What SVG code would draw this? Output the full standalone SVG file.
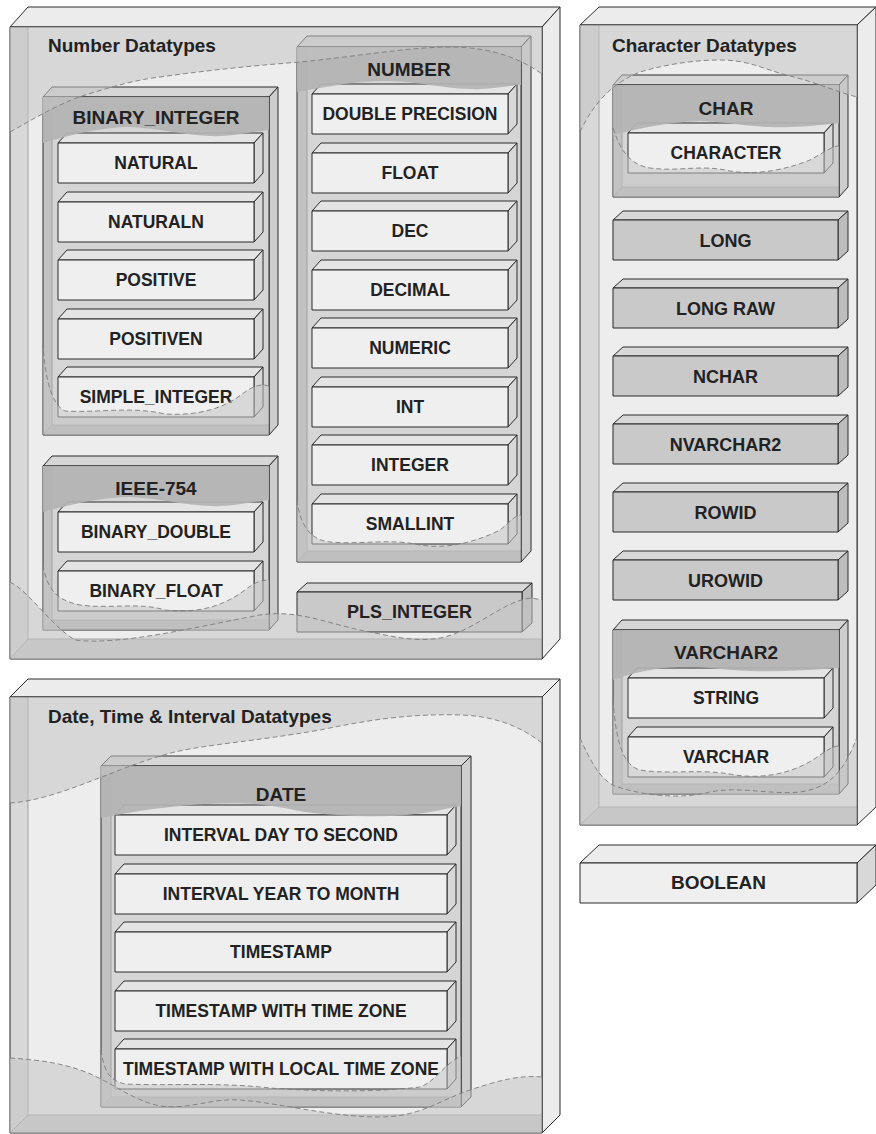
<svg xmlns="http://www.w3.org/2000/svg" xmlns:xlink="http://www.w3.org/1999/xlink" width="876" height="1134" viewBox="0 0 876 1134">
<style>
.s{stroke:#2b2b2b;stroke-width:1;stroke-linejoin:round}
.nf{fill:none}
.in{fill:none;stroke:#a2a2a2;stroke-width:1}
.bt{fill:#ececec}
.bb{fill:#ededed}
.bl{fill:#d8d8d8}
.bf{fill:#cbcbcb}
.ct{fill:#d6d6d6}
.cr{fill:#cdcdcd}
.cb{fill:#d5d5d5}
.cl{fill:#c2c2c2}
.cf{fill:#b9b9b9}
.ch{fill:#b3b3b3;opacity:.92}
.it{fill:#e4e4e4}
.ir{fill:#d8d8d8}
.if{fill:#efefef}
.gt{fill:#d8d8d8}
.gr{fill:#bdbdbd}
.gf{fill:#c9c9c9}
.ov{fill:#c4c4c4;opacity:.55}
.wv{fill:none;stroke:#7d7d7d;stroke-width:.9;stroke-dasharray:5 3}
.t{font-family:"Liberation Sans",Arial,Helvetica,sans-serif;font-weight:bold;fill:#222;text-anchor:middle}
.t17{font-size:17.5px}
.t18{font-size:18px}
.t19{font-size:19px}
.lb{font-family:"Liberation Sans",Arial,Helvetica,sans-serif;font-weight:bold;font-size:19px;fill:#222}
</style>
<defs>
<g id="i196"><polygon class="it s" points="0,0 9,-10 205,-10 196,0"/><polygon class="ir s" points="196,0 205,-10 205,30 196,40"/><rect class="if s" x="0" y="0" width="196" height="40"/></g>
<g id="i332"><polygon class="it s" points="0,0 9,-10 341,-10 332,0"/><polygon class="ir s" points="332,0 341,-10 341,30 332,40"/><rect class="if s" x="0" y="0" width="332" height="40"/></g>
<g id="gbox"><polygon class="gt s" points="0,0 10,-9 235,-9 225,0"/><polygon class="gr s" points="225,0 235,-9 235,31 225,40"/><rect class="gf s" x="0" y="0" width="225" height="40"/></g>
</defs>
<rect width="876" height="1134" fill="#ffffff"/>

<g id="number-datatypes">
<polygon class="bt s" points="10,27 28,7 560,7 542,27"/>
<polygon class="bt s" points="542,27 560,7 560,639 542,659"/>
<rect class="bb" x="10" y="27" width="532" height="632"/>
<polygon class="bl" points="10,27 28,27 28,639 10,659"/>
<polygon class="bf" points="10,659 28,639 542,639 542,659"/>
<path class="in" d="M28,27 V639 L10,659 M28,639 H542"/>
<rect class="s nf" x="10" y="27" width="532" height="632"/>

<g id="binary-integer">
<polygon class="ct s" points="43,97 52,87 278,87 269,97"/>
<polygon class="cr s" points="269,97 278,87 278,425 269,435"/>
<rect class="cb" x="43" y="97" width="226" height="338"/>
<polygon class="cl" points="43,97 52,97 52,425 43,435"/>
<polygon class="cf" points="43,435 52,425 269,425 269,435"/>
<path class="in" d="M52,97 V425 L43,435 M52,425 H269"/>
<rect class="s nf" x="43" y="97" width="226" height="338"/>
<g id="natural"><use xlink:href="#i196" x="58" y="143"/><text class="t t17" x="156" y="169">NATURAL</text></g>
<g id="naturaln"><use xlink:href="#i196" x="58" y="202"/><text class="t t17" x="156" y="228">NATURALN</text></g>
<g id="positive"><use xlink:href="#i196" x="58" y="260"/><text class="t t17" x="156" y="286">POSITIVE</text></g>
<g id="positiven"><use xlink:href="#i196" x="58" y="319"/><text class="t t17" x="156" y="345">POSITIVEN</text></g>
<g id="simple-integer"><use xlink:href="#i196" x="58" y="377"/><text class="t t17" x="156" y="403">SIMPLE_INTEGER</text></g>
<path class="ch" d="M43,97 H269 V130 C250,132 230,137 210,136 C180,135 160,128 130,127 C100,127 70,135 43,143 Z"/>
<text class="t t19" x="156" y="124">BINARY_INTEGER</text>
<path class="ov" d="M43,343 C45,380 52,405 65,411 C100,413 130,406 165,414 C200,416 225,408 245,392 C255,385 262,384 269,386 V435 H43 Z"/>
<path class="wv" d="M43,343 C45,380 52,405 65,411 C100,413 130,406 165,414 C200,416 225,408 245,392 C255,385 262,384 269,386"/>
</g>

<g id="number">
<polygon class="ct s" points="297,47 307,36 531,36 521,47"/>
<polygon class="cr s" points="521,47 531,36 531,551 521,562"/>
<rect class="cb" x="297" y="47" width="224" height="515"/>
<polygon class="cl" points="297,47 307,47 307,551 297,562"/>
<polygon class="cf" points="297,562 307,551 521,551 521,562"/>
<path class="in" d="M307,47 V551 L297,562 M307,551 H521"/>
<rect class="s nf" x="297" y="47" width="224" height="515"/>
<g id="double-precision"><use xlink:href="#i196" x="312" y="94"/><text class="t t17" x="410" y="120">DOUBLE PRECISION</text></g>
<g id="float"><use xlink:href="#i196" x="312" y="153"/><text class="t t17" x="410" y="179">FLOAT</text></g>
<g id="dec"><use xlink:href="#i196" x="312" y="211"/><text class="t t17" x="410" y="237">DEC</text></g>
<g id="decimal"><use xlink:href="#i196" x="312" y="270"/><text class="t t17" x="410" y="296">DECIMAL</text></g>
<g id="numeric"><use xlink:href="#i196" x="312" y="328"/><text class="t t17" x="410" y="354">NUMERIC</text></g>
<g id="int"><use xlink:href="#i196" x="312" y="387"/><text class="t t17" x="410" y="413">INT</text></g>
<g id="integer"><use xlink:href="#i196" x="312" y="445"/><text class="t t17" x="410" y="471">INTEGER</text></g>
<g id="smallint"><use xlink:href="#i196" x="312" y="504"/><text class="t t17" x="410" y="530">SMALLINT</text></g>
<path class="ch" d="M297,47 H521 V85 C505,86 490,90 470,89 C440,88 420,82 390,81 C360,80 330,86 297,92 Z"/>
<text class="t t19" x="409" y="76">NUMBER</text>
<path class="ov" d="M297,500 C300,525 310,540 330,542 C360,545 390,538 420,545 C450,550 480,540 500,530 C510,522 515,515 521,515 V562 H297 Z"/>
<path class="wv" d="M297,500 C300,525 310,540 330,542 C360,545 390,538 420,545 C450,550 480,540 500,530 C510,522 515,515 521,515"/>
</g>

<g id="ieee-754">
<polygon class="ct s" points="43,466 52,456 278,456 269,466"/>
<polygon class="cr s" points="269,466 278,456 278,620 269,630"/>
<rect class="cb" x="43" y="466" width="226" height="164"/>
<polygon class="cl" points="43,466 52,466 52,620 43,630"/>
<polygon class="cf" points="43,630 52,620 269,620 269,630"/>
<path class="in" d="M52,466 V620 L43,630 M52,620 H269"/>
<rect class="s nf" x="43" y="466" width="226" height="164"/>
<g id="binary-double"><use xlink:href="#i196" x="58" y="512"/><text class="t t17" x="156" y="538">BINARY_DOUBLE</text></g>
<g id="binary-float"><use xlink:href="#i196" x="58" y="571"/><text class="t t17" x="156" y="597">BINARY_FLOAT</text></g>
<path class="ch" d="M43,466 H269 V500 C250,502 230,507 210,506 C180,505 160,498 130,497 C100,497 70,505 43,512 Z"/>
<text class="t t19" x="156" y="495">IEEE-754</text>
<path class="ov" d="M43,565 C47,588 55,600 80,605 C110,609 140,602 165,610 C200,614 225,605 245,590 C255,582 262,580 269,580 V630 H43 Z"/>
<path class="wv" d="M43,565 C47,588 55,600 80,605 C110,609 140,602 165,610 C200,614 225,605 245,590 C255,582 262,580 269,580"/>
</g>

<g id="pls-integer"><use xlink:href="#gbox" x="297" y="592"/><text class="t t18" x="409.5" y="618">PLS_INTEGER</text></g>

<path class="ov" d="M10,27 H542 V74 C520,58 490,47 450,47 C410,47 360,56 300,62 C250,66 210,70 160,77 C135,80 115,86 85,95 C60,103 35,118 10,132 Z"/>
<path class="wv" d="M10,132 C35,118 60,103 85,95 C115,86 135,80 160,77 C210,70 250,66 300,62 C360,56 410,47 450,47 C490,47 520,58 542,74"/>
<path class="ov" d="M10,582 C30,592 50,625 75,640 C120,646 200,626 260,615 C300,609 330,625 370,632 C395,637 420,643 445,637 C480,627 505,600 532,598 L542,600 V659 H10 Z"/>
<path class="wv" d="M10,582 C30,592 50,625 75,640 C120,646 200,626 260,615 C300,609 330,625 370,632 C395,637 420,643 445,637 C480,627 505,600 532,598 L542,600"/>
<text class="lb" x="48" y="52">Number Datatypes</text>
</g>

<g id="character-datatypes">
<polygon class="bt s" points="580,25 599,7 876,7 857,25"/>
<polygon class="bt s" points="857,25 876,7 876,807 857,825"/>
<rect class="bb" x="580" y="25" width="277" height="800"/>
<polygon class="bl" points="580,25 599,25 599,807 580,825"/>
<polygon class="bf" points="580,825 599,807 857,807 857,825"/>
<path class="in" d="M599,25 V807 L580,825 M599,807 H857"/>
<rect class="s nf" x="580" y="25" width="277" height="800"/>

<g id="char">
<polygon class="ct s" points="613,85 622,75 848,75 839,85"/>
<polygon class="cr s" points="839,85 848,75 848,187 839,197"/>
<rect class="cb" x="613" y="85" width="226" height="112"/>
<polygon class="cl" points="613,85 622,85 622,187 613,197"/>
<polygon class="cf" points="613,197 622,187 839,187 839,197"/>
<path class="in" d="M622,85 V187 L613,197 M622,187 H839"/>
<rect class="s nf" x="613" y="85" width="226" height="112"/>
<g id="character"><use xlink:href="#i196" x="628" y="133"/><text class="t t17" x="726" y="159">CHARACTER</text></g>
<path class="ch" d="M613,85 H839 V123 C820,125 800,128 770,127 C740,126 720,121 700,121 C670,122 640,128 613,135 Z"/>
<text class="t t19" x="726" y="115">CHAR</text>
<path class="ov" d="M613,128 C620,150 630,165 650,168 C680,172 700,164 730,171 C760,176 790,168 810,160 C825,152 832,146 839,146 V197 H613 Z"/>
<path class="wv" d="M613,128 C620,150 630,165 650,168 C680,172 700,164 730,171 C760,176 790,168 810,160 C825,152 832,146 839,146"/>
</g>

<g id="long"><use xlink:href="#gbox" x="613" y="220"/><text class="t t18" x="725.5" y="247">LONG</text></g>
<g id="long-raw"><use xlink:href="#gbox" x="613" y="288"/><text class="t t18" x="725.5" y="315">LONG RAW</text></g>
<g id="nchar"><use xlink:href="#gbox" x="613" y="356"/><text class="t t18" x="725.5" y="383">NCHAR</text></g>
<g id="nvarchar2"><use xlink:href="#gbox" x="613" y="424"/><text class="t t18" x="725.5" y="451">NVARCHAR2</text></g>
<g id="rowid"><use xlink:href="#gbox" x="613" y="492"/><text class="t t18" x="725.5" y="519">ROWID</text></g>
<g id="urowid"><use xlink:href="#gbox" x="613" y="560"/><text class="t t18" x="725.5" y="587">UROWID</text></g>

<g id="varchar2">
<polygon class="ct s" points="613,630 622,620 848,620 839,630"/>
<polygon class="cr s" points="839,630 848,620 848,784 839,794"/>
<rect class="cb" x="613" y="630" width="226" height="164"/>
<polygon class="cl" points="613,630 622,630 622,784 613,794"/>
<polygon class="cf" points="613,794 622,784 839,784 839,794"/>
<path class="in" d="M622,630 V784 L613,794 M622,784 H839"/>
<rect class="s nf" x="613" y="630" width="226" height="164"/>
<g id="string"><use xlink:href="#i196" x="628" y="678"/><text class="t t17" x="726" y="704">STRING</text></g>
<g id="varchar"><use xlink:href="#i196" x="628" y="737"/><text class="t t17" x="726" y="763">VARCHAR</text></g>
<path class="ch" d="M613,630 H839 V668 C810,670 780,672 750,671 C720,670 700,666 680,667 C650,668 630,674 613,680 Z"/>
<text class="t t19" x="726" y="659">VARCHAR2</text>
<path class="ov" d="M613,700 C616,740 622,765 640,770 C670,775 700,768 735,775 C770,780 800,770 820,755 C830,748 835,746 839,746 V794 H613 Z"/>
<path class="wv" d="M613,700 C616,740 622,765 640,770 C670,775 700,768 735,775 C770,780 800,770 820,755 C830,748 835,746 839,746"/>
</g>

<path class="ov" d="M580,25 H857 V97 C840,93 815,82 790,76 C765,70 750,60 720,60 C690,60 660,66 640,72 C615,82 595,100 580,132 Z"/>
<path class="wv" d="M580,132 C595,100 615,82 640,72 C660,66 690,60 720,60 C750,60 765,70 790,76 C815,82 840,93 857,97"/>
<path class="ov" d="M580,738 C590,760 600,780 615,786 C640,795 680,800 710,792 C740,786 770,795 800,792 C830,788 845,770 857,737 V825 H580 Z"/>
<path class="wv" d="M580,738 C590,760 600,780 615,786 C640,795 680,800 710,792 C740,786 770,795 800,792 C830,788 845,770 857,737"/>
<text class="lb" x="612" y="52">Character Datatypes</text>
</g>

<g id="boolean">
<polygon class="bt s" points="580,863 599,845 876,845 857,863"/>
<polygon class="ir s" points="857,863 876,845 876,885 857,903"/>
<rect class="if s" x="580" y="863" width="277" height="40"/>
<text class="t t19" x="718.5" y="889">BOOLEAN</text>
</g>

<g id="date-time-interval-datatypes">
<polygon class="bt s" points="10,697 28,679 560,679 542,697"/>
<polygon class="bt s" points="542,697 560,679 560,1115 542,1133"/>
<rect class="bb" x="10" y="697" width="532" height="436"/>
<polygon class="bl" points="10,697 28,697 28,1115 10,1133"/>
<polygon class="bf" points="10,1133 28,1115 542,1115 542,1133"/>
<path class="in" d="M28,697 V1115 L10,1133 M28,1115 H542"/>
<rect class="s nf" x="10" y="697" width="532" height="436"/>

<g id="date">
<polygon class="ct s" points="101,766 111,756 471,756 461,766"/>
<polygon class="cr s" points="461,766 471,756 471,1097 461,1107"/>
<rect class="cb" x="101" y="766" width="360" height="341"/>
<polygon class="cl" points="101,766 111,766 111,1097 101,1107"/>
<polygon class="cf" points="101,1107 111,1097 461,1097 461,1107"/>
<path class="in" d="M111,766 V1097 L101,1107 M111,1097 H461"/>
<rect class="s nf" x="101" y="766" width="360" height="341"/>
<g id="interval-day-to-second"><use xlink:href="#i332" x="115" y="815"/><text class="t t17" x="281" y="841">INTERVAL DAY TO SECOND</text></g>
<g id="interval-year-to-month"><use xlink:href="#i332" x="115" y="874"/><text class="t t17" x="281" y="900">INTERVAL YEAR TO MONTH</text></g>
<g id="timestamp"><use xlink:href="#i332" x="115" y="932"/><text class="t t17" x="281" y="958">TIMESTAMP</text></g>
<g id="timestamp-with-time-zone"><use xlink:href="#i332" x="115" y="991"/><text class="t t17" x="281" y="1017">TIMESTAMP WITH TIME ZONE</text></g>
<g id="timestamp-with-local-time-zone"><use xlink:href="#i332" x="115" y="1049"/><text class="t t17" x="281" y="1075">TIMESTAMP WITH LOCAL TIME ZONE</text></g>
<path class="ch" d="M101,766 H461 V806 C440,810 420,815 390,816 C360,817 330,815 305,812 C280,807 260,803 230,803 C190,804 150,808 101,818 Z"/>
<text class="t t19" x="281" y="801">DATE</text>
<path class="ov" d="M101,1050 C104,1070 108,1080 125,1084 C170,1086 220,1082 270,1088 C320,1092 380,1092 420,1087 C435,1082 443,1065 461,1056 V1107 H101 Z"/>
<path class="wv" d="M101,1050 C104,1070 108,1080 125,1084 C170,1086 220,1082 270,1088 C320,1092 380,1092 420,1087 C435,1082 443,1065 461,1056"/>
</g>

<path class="ov" d="M10,697 H542 V743 C525,730 500,716 460,715 C400,713 350,724 320,730 C250,742 210,744 175,752 C120,765 60,800 10,803 Z"/>
<path class="wv" d="M10,803 C60,800 120,765 175,752 C210,744 250,742 320,730 C350,724 400,713 460,715 C500,716 525,730 542,743"/>
<path class="ov" d="M10,1058 C40,1060 60,1063 80,1070 C110,1080 130,1100 160,1106 C190,1110 210,1098 240,1100 C280,1103 330,1117 380,1117 C420,1117 440,1100 470,1090 C500,1080 520,1075 542,1077 V1133 H10 Z"/>
<path class="wv" d="M10,1058 C40,1060 60,1063 80,1070 C110,1080 130,1100 160,1106 C190,1110 210,1098 240,1100 C280,1103 330,1117 380,1117 C420,1117 440,1100 470,1090 C500,1080 520,1075 542,1077"/>
<text class="lb" x="48" y="723">Date, Time &amp; Interval Datatypes</text>
</g>

<g id="connectors"/>
</svg>
